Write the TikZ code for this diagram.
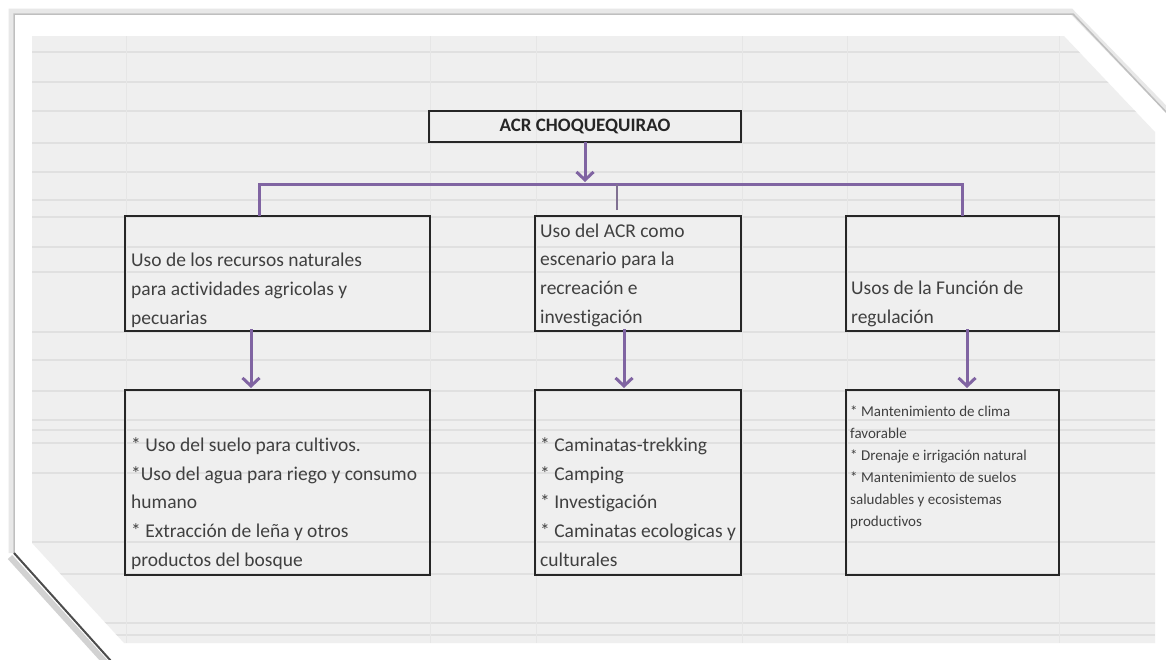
\documentclass[tikz,border=0pt]{standalone}
\usepackage{fontspec}
\setmainfont{Carlito}[Ligatures={NoCommon}]
\usetikzlibrary{positioning, arrows.meta}
\definecolor{morado}{RGB}{128,100,162}
\definecolor{hoja}{RGB}{239,239,239}
\definecolor{rejilla}{RGB}{224,224,224}
\definecolor{tinta}{RGB}{64,64,64}
\tikzstyle{caja} = [rectangle, draw=black!85, line width=2pt, inner sep=0pt, outer sep=0pt]
\tikzstyle{texto} = [inner sep=0pt, anchor=base west, align=left, text=tinta, font=\fontsize{19.5}{28.6}\selectfont]
\tikzstyle{textochico} = [texto, font=\fontsize{15}{22}\selectfont]
\tikzstyle{flecha} = [line width=3pt, draw=morado, -{Straight Barb[length=8pt,width=17pt]}, shorten >=2pt]
\tikzstyle{conector} = [line width=3pt, draw=morado]
\tikzstyle{marcador} = [line width=1.2pt, draw=morado!55!gray]

\begin{document}
\begin{tikzpicture}[x=1pt, y=-1pt]
\useasboundingbox (0,0) rectangle (1166,659);
\fill[white] (0,0) rectangle (1166,659);

% hoja de calculo
\fill[hoja] (32,36) -- (1064,36) -- (1155,132) -- (1155,643) -- (124,643) -- (32,543) -- cycle;
\begin{scope}
  \clip (32,36) -- (1064,36) -- (1155,132) -- (1155,643) -- (124,643) -- (32,543) -- cycle;
  \foreach \y in {52,82,111,143,172,200,217,247,272,332,360,391,420,430,443,473,542,574,623,635}
    \draw[rejilla, line width=1.2pt] (32,\y) -- (1155,\y);
  \foreach \x in {126,430,536,742,847,1059}
    \draw[rejilla!80, line width=1pt] (\x,36) -- (\x,643);
\end{scope}

% marco
\draw[gray!18, line width=5pt] (11,553) -- (11,11) -- (1071,11) -- (1168,111);
\draw[gray!50, line width=1.5pt] (14,553) -- (14,14) -- (1073,14) -- (1168,114);
\draw[gray!35, line width=6pt] (10,557) -- (106,663);
\draw[black!70, line width=2pt] (14,553) -- (111,661);

% cajas
\node (acr) [caja, minimum width=312pt, minimum height=31pt, text=black!85, font=\bfseries\fontsize{19}{21}\selectfont] at (585,126.5) {ACR CHOQUEQUIRAO};
\node (recursos) [caja, minimum width=305pt, minimum height=115pt] at (277.5,273.5) {};
\node (escenario) [caja, minimum width=206pt, minimum height=115pt, right=105pt of recursos] {};
\node (regulacion) [caja, minimum width=213pt, minimum height=115pt, right=105pt of escenario] {};
\node (suelo) [caja, minimum width=305pt, minimum height=185pt, below=59pt of recursos] {};
\node (caminatas) [caja, minimum width=206pt, minimum height=185pt, below=59pt of escenario] {};
\node (clima) [caja, minimum width=213pt, minimum height=185pt, below=59pt of regulacion] {};

% textos (anclados en la ultima linea)
\node (trecursos) [texto] at ([shift={(6,108)}]recursos.north west) {Uso de los recursos naturales\\para actividades agricolas y\\pecuarias};
\node (tescenario) [texto] at ([shift={(5,107)}]escenario.north west) {Uso del ACR como\\escenario para la\\recreación e\\investigación};
\node (tregulacion) [texto] at ([shift={(5,107.5)}]regulacion.north west) {Usos de la Función de\\regulación};
\node (tsuelo) [texto] at ([shift={(6,176)}]suelo.north west) {* Uso del suelo para cultivos.\\*Uso del agua para riego y consumo\\humano\\* Extracción de leña y otros\\productos del bosque};
\node (tcaminatas) [texto] at ([shift={(5,176)}]caminatas.north west) {* Caminatas-trekking\\* Camping\\* Investigación\\* Caminatas ecologicas y\\culturales};
\node (tclima) [textochico] at ([shift={(4,136)}]clima.north west) {* Mantenimiento de clima\\favorable\\* Drenaje e irrigación natural\\* Mantenimiento de suelos\\saludables y ecosistemas\\productivos};

% conectores
\coordinate (barizq) at (259,184);
\coordinate (barder) at (962,184);
\coordinate (marca) at (617,210);
\coordinate (f1) at (251,0);
\coordinate (f2) at (624,0);
\coordinate (f3) at (967,0);

\draw [flecha] (acr.south) -- (acr.south |- barizq);
\draw [conector] (recursos.north -| barizq) -- (barizq) -- (barder) -- (regulacion.north -| barder);
\draw [marcador] (marca) -- (marca |- barizq);
\draw [flecha] ([yshift=2pt]recursos.south -| f1) -- (suelo.north -| f1);
\draw [flecha] ([yshift=2pt]escenario.south -| f2) -- (caminatas.north -| f2);
\draw [flecha] ([yshift=2pt]regulacion.south -| f3) -- (clima.north -| f3);
\end{tikzpicture}
\end{document}
